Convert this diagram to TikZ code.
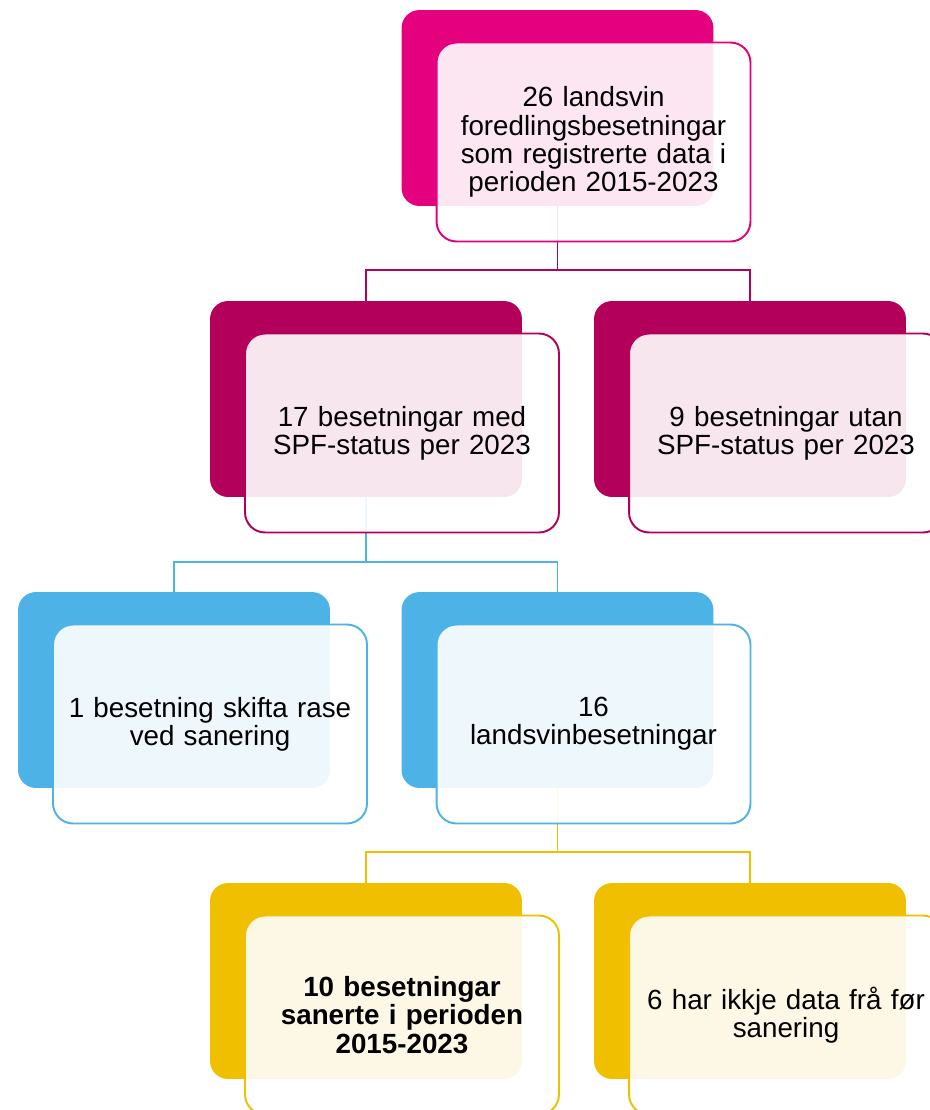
\documentclass[tikz,border=0pt]{standalone}
\usepackage{fontspec}
\setmainfont{Liberation Sans}
\usetikzlibrary{calc}

\definecolor{magtop}{HTML}{E5007D}
\definecolor{magmid}{HTML}{B3005B}
\definecolor{skyblue}{HTML}{4DB3E6}
\definecolor{gold}{HTML}{EFBF00}

\begin{document}
\begin{tikzpicture}[x=0.02cm, y=-0.02cm,
    back/.style={rectangle, rounded corners=0.36cm, fill=#1, minimum width=6.24cm, minimum height=3.92cm, inner sep=0pt},
    front/.style={rectangle, rounded corners=0.4cm, draw=#1, line width=1.1pt, fill=white, fill opacity=0.9, text opacity=1,
        minimum width=6.28cm, minimum height=3.98cm, text width=6cm, align=center, inner sep=0pt,
        font=\fontsize{15.8}{16.1}\selectfont},
    link/.style={draw=#1, line width=1.1pt}]
    \clip (0,0) rectangle (930,1110);
    \node[back=magtop] (A) at (557.5,108) {};
    \node[back=magmid] (B) at (366,399) {};
    \node[back=magmid] (C) at (750,399) {};
    \node[back=skyblue] (D) at (174,690) {};
    \node[back=skyblue] (E) at (557.5,690) {};
    \node[back=gold] (F) at (366,981) {};
    \node[back=gold] (G) at (750,981) {};
    \foreach \c in {B,C} {\draw[link=magmid] (A.south) -- ++(0,64) -| (\c.north);}
    \foreach \c in {D,E} {\draw[link=skyblue] (B.south) -- ++(0,65) -| (\c.north);}
    \foreach \c in {F,G} {\draw[link=gold] (E.south) -- ++(0,64) -| (\c.north);}
    \node[front=magtop] (a) at ($(A)+(36,34)$) {26 landsvin\\foredlingsbesetningar\\som registrerte data i\\perioden 2015-2023};
    \node[front=magmid] (b) at ($(B)+(36,34)$) {17 besetningar med\\SPF-status per 2023};
    \node[front=magmid] (c) at ($(C)+(36,34)$) {9 besetningar utan\\SPF-status per 2023};
    \node[front=skyblue] (d) at ($(D)+(36,34)$) {1 besetning skifta rase\\ved sanering};
    \node[front=skyblue] (e) at ($(E)+(36,34)$) {16\\landsvinbesetningar};
    \node[front=gold] (f) at ($(F)+(36,34)$) {\bfseries 10 besetningar\\sanerte i perioden\\2015-2023};
    \node[front=gold] (g) at ($(G)+(36,34)$) {6 har ikkje data frå før\\sanering};
\end{tikzpicture}
\end{document}
